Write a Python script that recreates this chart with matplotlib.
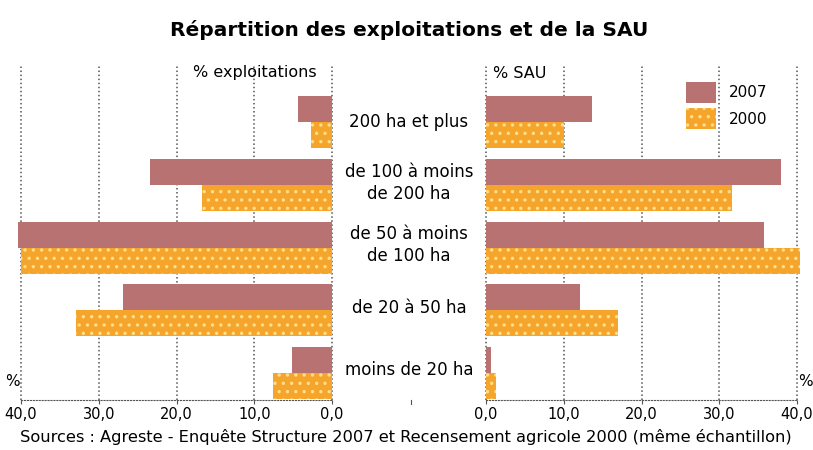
import matplotlib.pyplot as plt
import matplotlib.patches as mpatches
import numpy as np

plt.rcParams['font.family'] = ['DejaVu Sans']

categories = ["200 ha et plus", "de 100 à moins\nde 200 ha", "de 50 à moins\nde 100 ha",
              "de 20 à 50 ha", "moins de 20 ha"]
expl_2007 = [4.4, 23.4, 40.4, 26.9, 5.2]
expl_2000 = [2.7, 16.7, 40.0, 32.9, 7.6]
sau_2007 = [13.6, 38.0, 35.7, 12.1, 0.6]
sau_2000 = [10.0, 31.6, 40.4, 17.0, 1.3]
ticks = [0, 10, 20, 30, 40]
tick_labels = ["0,0", "10,0", "20,0", "30,0", "40,0"]

c07 = "#b87272"
c00 = "#f5a52c"
dot = "#fde08c"

W, H = 813, 450
fig = plt.figure(figsize=(W / 100, H / 100), dpi=100)

def px(x0, y0, x1, y1):
    return [x0 / W, 1 - y1 / H, (x1 - x0) / W, (y1 - y0) / H]

axl = fig.add_axes(px(21, 65, 332, 400))
axr = fig.add_axes(px(486, 65, 797, 400))

y = np.arange(len(categories))
h = 0.414
plt.rcParams['hatch.linewidth'] = 1.2

for ax, v07, v00 in [(axl, expl_2007, expl_2000), (axr, sau_2007, sau_2000)]:
    ax.barh(y - h / 2, v07, height=h, color=c07, linewidth=0, clip_on=False, zorder=3)
    ax.barh(y + h / 2, v00, height=h, color=c00, edgecolor=dot, hatch="..",
            linewidth=0, clip_on=False, zorder=3)
    ax.set_xlim(0, 40)
    ax.set_ylim(4.43, -0.91)
    ax.set_yticks([])
    ax.set_xticks(ticks)
    ax.set_xticklabels(tick_labels, fontsize=10.5)
    ax.tick_params(axis="x", length=3, width=0.8, color="#555555", pad=2)
    for s in ["top", "left", "right"]:
        ax.spines[s].set_visible(False)
    ax.spines["bottom"].set_linestyle(":")
    ax.spines["bottom"].set_color("#555555")
    for t in ticks:
        ax.axvline(t, color="#555555", linestyle=":", linewidth=1.1, zorder=1, clip_on=False)

axl.invert_xaxis()

fig.text(409 / W, 1 - 30 / H, "Répartition des exploitations et de la SAU",
         ha="center", va="center", fontsize=14.5, fontweight="bold")
fig.text(255 / W, 1 - 73 / H, "% exploitations", ha="center", va="center", fontsize=11.5)
fig.text(520 / W, 1 - 73 / H, "% SAU", ha="center", va="center", fontsize=11.5)
fig.text(12 / W, 1 - 382 / H, "%", ha="center", va="center", fontsize=11)
fig.text(805 / W, 1 - 382 / H, "%", ha="center", va="center", fontsize=11)
fig.text(406 / W, 1 - 437 / H,
         "Sources : Agreste - Enquête Structure 2007 et Recensement agricole 2000 (même échantillon)",
         ha="center", va="center", fontsize=11.7)

label_y = [122, 183, 245, 308, 370]
for lab, yy in zip(categories, label_y):
    fig.text(409 / W, 1 - yy / H, lab, ha="center", va="center", fontsize=12,
             linespacing=1.25)

# small tick in the middle of the bottom axis
fig.add_artist(plt.Line2D([411 / W, 411 / W], [1 - 400 / H, 1 - 404 / H],
                          color="#555555", linewidth=0.8))

handles = [mpatches.Patch(facecolor=c07, linewidth=0, label="2007"),
           mpatches.Patch(facecolor=c00, edgecolor=dot, hatch="..", linewidth=0, label="2000")]
fig.legend(handles=handles, loc="upper left", bbox_to_anchor=(675 / W, 1 - 71 / H),
           frameon=False, fontsize=11, handlelength=2.0, handleheight=1.75,
           handletextpad=0.8, labelspacing=0.35, borderpad=0.2)

fig.savefig("out.png", dpi=100)
